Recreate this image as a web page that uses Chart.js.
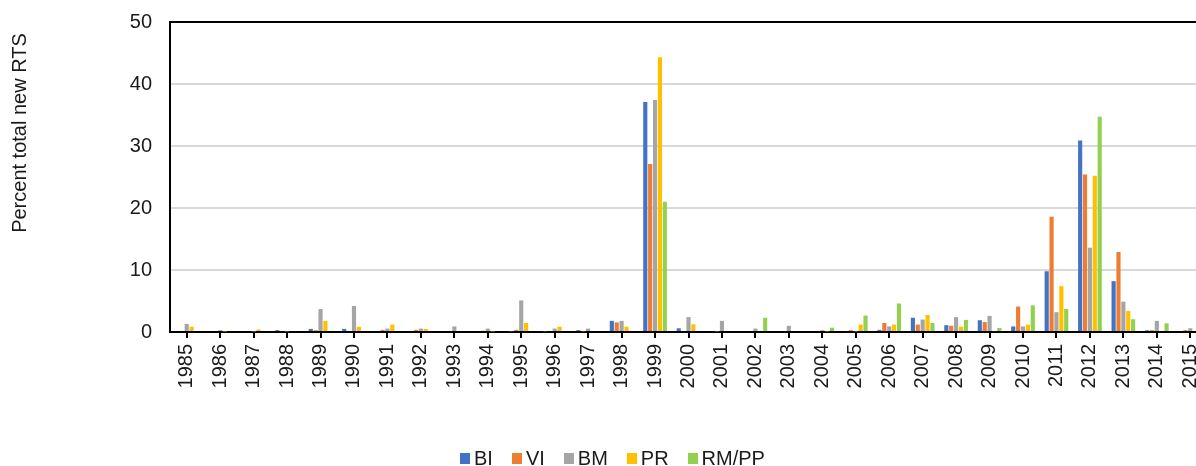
<!DOCTYPE html>
<html>
<head>
<meta charset="utf-8">
<style>
html,body{margin:0;padding:0;overflow:hidden;background:#fff;width:1196px;height:466px;}
#wrap{position:absolute;left:0;top:-8px;width:1230px;height:474px;}
#legend{position:absolute;left:460px;top:447px;display:flex;align-items:flex-start;font-family:'Liberation Sans',Arial,sans-serif;font-size:20px;color:#1a1a1a;white-space:nowrap;line-height:23px;}
#legend .it{display:flex;align-items:flex-start;margin-right:19px;}
#legend .sw{display:inline-block;width:10px;height:11px;margin-right:4px;margin-top:6px;}
</style>
<script src="https://cdn.jsdelivr.net/npm/chart.js@4/dist/chart.umd.min.js"></script>
</head>
<body>
<div id="wrap"><canvas id="c" width="1230" height="474"></canvas></div>
<div id="legend"></div>
<script>
const years = ['1985','1986','1987','1988','1989','1990','1991','1992','1993','1994','1995','1996','1997','1998','1999','2000','2001','2002','2003','2004','2005','2006','2007','2008','2009','2010','2011','2012','2013','2014','2015'];
const yTicks = [0, 10, 20, 30, 40, 50];
const seriesNames = ['BI', 'VI', 'BM', 'PR', 'RM/PP'];
const BI    = [0, 0, 0, 0.3, 0.5, 0.5, 0, 0, 0, 0, 0.1, 0.1, 0.3, 1.8, 37.1, 0.6, 0, 0, 0, 0, 0.15, 0.35, 2.3, 1.1, 1.9, 0.9, 9.8, 30.9, 8.2, 0.27, 0];
const VI    = [0, 0, 0, 0, 0.3, 0, 0.35, 0.35, 0, 0.2, 0.35, 0, 0.1, 1.55, 27.1, 0, 0.1, 0, 0, 0.15, 0.3, 1.45, 1.2, 1.0, 1.6, 4.1, 18.6, 25.4, 12.9, 0.3, 0.3];
const BM    = [1.3, 0.3, 0.1, 0.1, 3.7, 4.2, 0.55, 0.55, 0.9, 0.55, 5.1, 0.55, 0.55, 1.8, 37.4, 2.4, 1.8, 0.55, 1.0, 0.3, 0.1, 0.9, 2.0, 2.4, 2.6, 0.9, 3.2, 13.6, 4.9, 1.8, 0.6];
const PR    = [0.85, 0.1, 0.4, 0, 1.8, 0.85, 1.2, 0.5, 0, 0.1, 1.45, 0.85, 0, 0.85, 44.3, 1.25, 0, 0, 0, 0.1, 1.2, 1.2, 2.75, 0.86, 0.15, 1.2, 7.4, 25.2, 3.4, 0, 0];
const RMPP  = [0, 0, 0, 0, 0, 0, 0, 0, 0, 0, 0, 0, 0, 0, 21.0, 0, 0, 2.3, 0, 0.7, 2.65, 4.6, 1.45, 1.95, 0.65, 4.3, 3.7, 34.7, 2.05, 1.4, 0];
const colors = ['#4472C4', '#ED7D31', '#A5A5A5', '#FFC000', '#92D050'];
const values = [BI, VI, BM, PR, RMPP];

const FONT = "'Liberation Sans', Arial, sans-serif";
const TXT = '#1a1a1a';

const yTitlePlugin = {
  id: 'yTitle',
  afterDraw(chart) {
    const ctx = chart.ctx;
    ctx.save();
    ctx.translate(20, 141);
    ctx.rotate(-Math.PI / 2);
    ctx.textAlign = 'center';
    ctx.textBaseline = 'middle';
    ctx.font = '20px ' + FONT;
    ctx.fillStyle = TXT;
    ctx.fillText('Percent total new RTS', 0, 0);
    ctx.restore();
  }
};
const topBorderPlugin = {
  id: 'topBorder',
  afterDatasetsDraw(chart) {
    const {ctx, chartArea} = chart;
    ctx.save();
    ctx.strokeStyle = '#000';
    ctx.lineWidth = 2;
    ctx.beginPath();
    ctx.moveTo(chartArea.left, chartArea.top);
    ctx.lineTo(chartArea.right, chartArea.top);
    ctx.stroke();
    ctx.restore();
  }
};

const chart = new Chart(document.getElementById('c'), {
  type: 'bar',
  data: {
    labels: years,
    datasets: seriesNames.map((n, i) => ({
      label: n,
      data: values[i],
      backgroundColor: colors[i],
      borderWidth: 0,
      categoryPercentage: 0.73,
      barPercentage: 0.85
    }))
  },
  options: {
    responsive: false,
    animation: false,
    devicePixelRatio: 1,
    layout: {padding: {left: 0, top: 14, right: 23, bottom: 0}},
    plugins: {
      legend: {display: false},
      tooltip: {enabled: false},
      title: {display: false}
    },
    scales: {
      x: {
        afterFit(s) { s.height = 134; },
        grid: {offset: false, drawOnChartArea: false, drawTicks: true, tickLength: 6, color: '#000', lineWidth: 2},
        border: {color: '#000', width: 2},
        ticks: {maxRotation: 90, minRotation: 90, autoSkip: false, padding: 6, font: {family: FONT, size: 20}, color: TXT}
      },
      y: {
        min: 0,
        max: 50,
        afterFit(s) { s.width = 170; },
        afterBuildTicks(s) { s.ticks = yTicks.map(v => ({value: v})); },
        grid: {color: '#d9d9d9', lineWidth: 2, drawTicks: false},
        border: {color: '#000', width: 2},
        ticks: {padding: 18, font: {family: FONT, size: 20}, color: TXT}
      }
    }
  },
  plugins: [yTitlePlugin, topBorderPlugin]
});

// HTML legend built from the chart's datasets
const lg = document.getElementById('legend');
chart.data.datasets.forEach(ds => {
  const it = document.createElement('span');
  it.className = 'it';
  const sw = document.createElement('span');
  sw.className = 'sw';
  sw.style.background = ds.backgroundColor;
  const tx = document.createElement('span');
  tx.textContent = ds.label;
  it.appendChild(sw);
  it.appendChild(tx);
  lg.appendChild(it);
});
</script>
</body>
</html>
